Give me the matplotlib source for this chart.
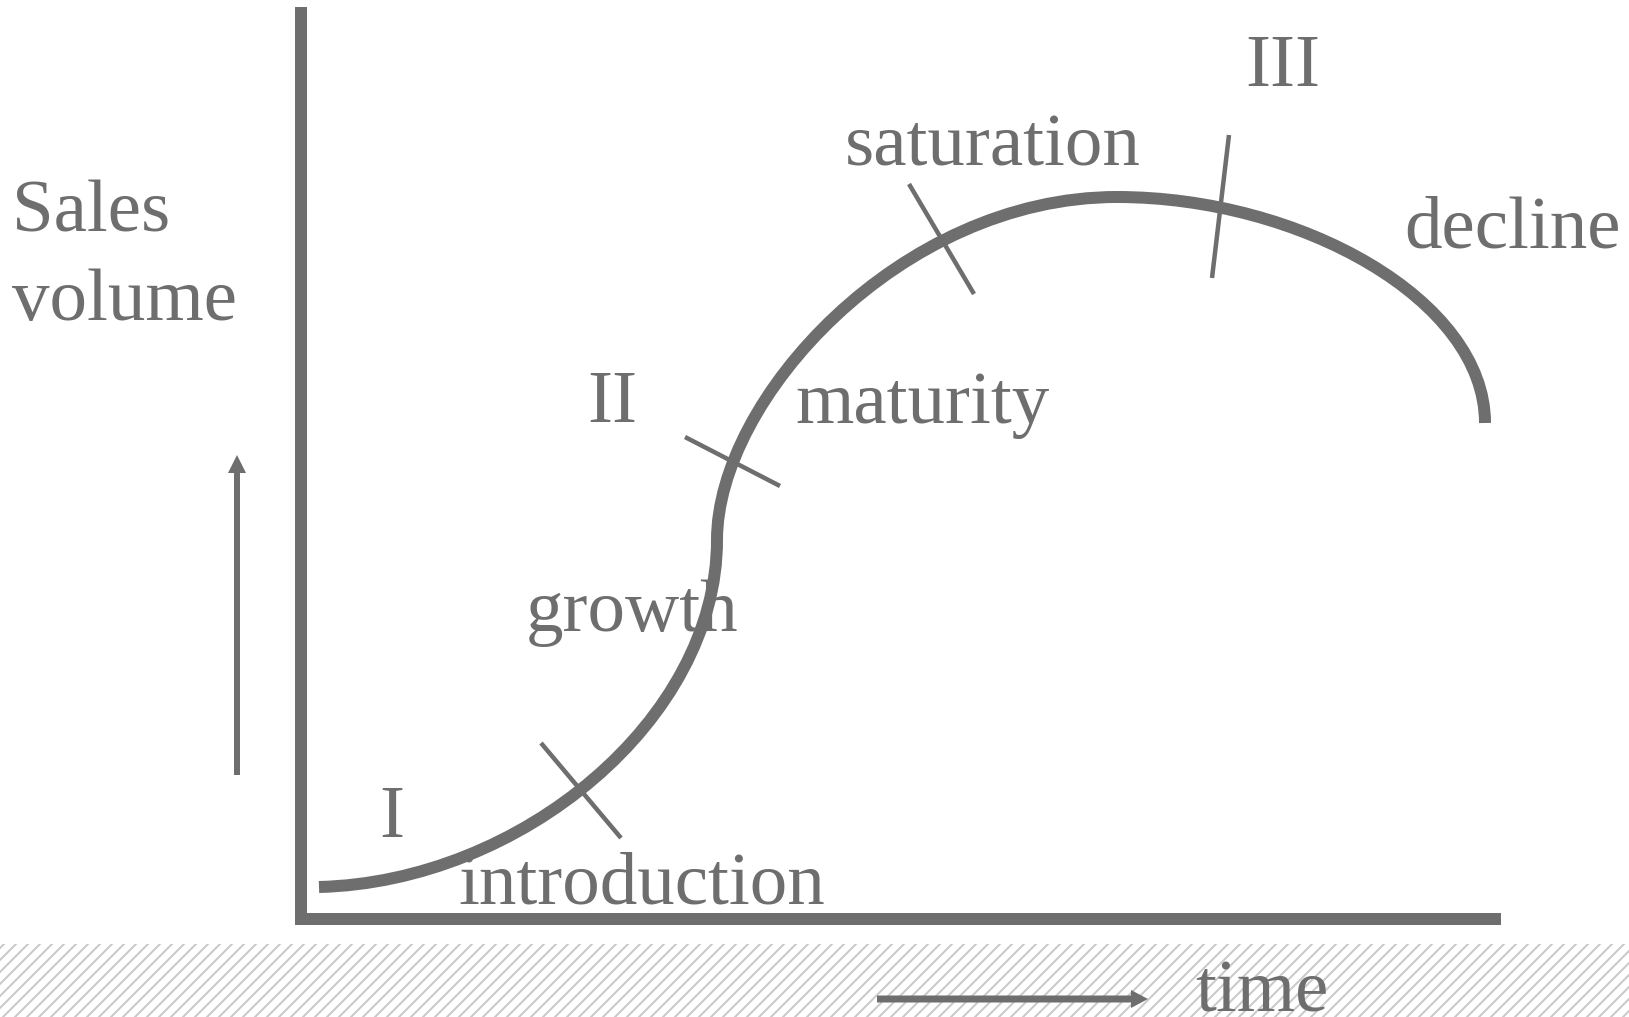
import matplotlib
matplotlib.use("Agg")
import matplotlib.pyplot as plt
from matplotlib.path import Path
from matplotlib.patches import PathPatch, Rectangle

# canvas in pixel units (dpi 72 -> 1 pt == 1 px)
W, H = 1629, 1017
GRAY = "#6e6e6e"

# product life cycle curve, as cubic bezier control points (x, y in px, y down)
curve_pts = [(319, 887),
             (520, 882), (717, 720), (717, 540),
             (717, 400), (900, 197), (1117, 197),
             (1300, 197), (1485, 300), (1485, 423)]

# phase separator ticks
tick_segs = [((541, 743), (621, 838)),
             ((685, 437), (780, 486)),
             ((909, 184), (974, 294)),
             ((1229, 135), (1212, 278))]

# labels: text, left x, baseline y
labels = ["Sales", "volume", "I", "introduction", "growth", "II",
          "maturity", "saturation", "III", "decline", "time"]
label_x = [12, 12, 379, 458, 526, 587, 795, 845, 1245, 1404, 1195]
label_y = [231, 320, 837, 903, 631, 422, 423, 166, 86, 247, 1012]

plt.rcParams["font.family"] = ["Liberation Serif", "DejaVu Serif"]
plt.rcParams["hatch.linewidth"] = 2.0
plt.rcParams["hatch.color"] = "#cacaca"

fig = plt.figure(figsize=(W / 72, H / 72), dpi=72)
ax = fig.add_axes([0, 0, 1, 1])
ax.set_xlim(0, W)
ax.set_ylim(H, 0)
ax.axis("off")

# hatched band at the bottom
ax.add_patch(Rectangle((0, 944), W, H - 944, facecolor="white",
                       edgecolor="#cacaca", hatch="//", linewidth=0))

# axes
ax.plot([301, 301], [7, 925], color=GRAY, lw=12, solid_capstyle="butt")
ax.plot([295, 1501], [919, 919], color=GRAY, lw=12, solid_capstyle="butt")

# curve
codes = [Path.MOVETO] + [Path.CURVE4] * (len(curve_pts) - 1)
ax.add_patch(PathPatch(Path(curve_pts, codes), fill=False, edgecolor=GRAY,
                       lw=12, capstyle="butt"))

for (x0, y0), (x1, y1) in tick_segs:
    ax.plot([x0, x1], [y0, y1], color=GRAY, lw=4.5, solid_capstyle="butt")

# arrows
ax.arrow(237, 775, 0, -320, width=6, head_width=18, head_length=18,
         length_includes_head=True, color=GRAY, lw=0)
ax.arrow(877, 999, 271, 0, width=7, head_width=18, head_length=17,
         length_includes_head=True, color=GRAY, lw=0)

for t, x, y in zip(labels, label_x, label_y):
    ax.text(x, y, t, fontsize=75, color=GRAY, ha="left", va="baseline")

fig.savefig("out.png", dpi=72)
